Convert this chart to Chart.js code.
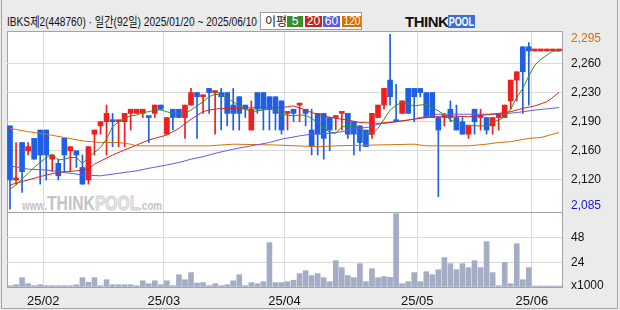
<!DOCTYPE html>
<html>
<head>
<meta charset="utf-8">
<script src="https://cdn.jsdelivr.net/npm/chart.js@4.4.1/dist/chart.umd.min.js"></script>
<style>
  body { margin: 0; background: #ebebeb; }
  #box { position: relative; width: 620px; height: 310px; overflow: hidden; background: #ebebeb;
         font-family: "Liberation Sans", "Noto Sans CJK KR", sans-serif; }
  .abs { position: absolute; white-space: nowrap; }
  #frame { left: 1px; top: -1px; width: 617px; height: 310px; border: 1px solid #a6a6a6; box-sizing: border-box; }
  #plotBg { left: 7px; top: 31px; width: 555px; height: 256px; background: #fff; }
  #title { left: 7px; top: 15px; font-size: 13px; line-height: 13px; color: #111; transform-origin: 0 0; }
  #legend { left: 260px; top: 12px; width: 100px; height: 16px; background: #fff; border: 1px solid #9a9a9a; }
  #legend .lbl { left: 4px; top: 0px; font-size: 12px; line-height: 16px; font-family: "Noto Sans CJK KR", sans-serif; color: #111; }
  #legend .sw { top: 3px; height: 11px; color: #fff; font-size: 12px; line-height: 11px; text-align: center; overflow: hidden; }
  #legend .sw span { display: inline-block; transform-origin: 50% 50%; }
  #logo { left: 405px; top: 15px; height: 13px; }
  #logo .tk { left: 0; top: -2px; font-size: 15px; font-weight: bold; color: #111; letter-spacing: -0.5px; }
  #logo .pl { left: 43px; top: 0; width: 27px; height: 13px; background: #3b6fd6; color: #fff; font-size: 13px; line-height: 13px;
              font-weight: bold; overflow: hidden; }
  #logo .pl span { display: inline-block; transform-origin: 0 0; padding-left: 1px; }
  #wm { left: 22px; top: 192px; color: #c3c3c3; transform-origin: 0 0; line-height: 22px; }
  #wm .s { font-size: 13px; font-weight: bold; }
  #wm .b { font-size: 21px; font-weight: bold; }
  #wm .o { font-size: 21px; font-weight: bold; color: #e6e6e6; -webkit-text-stroke: 1px #d0d0d0; }
  #c { position: absolute; left: 0; top: 0; }
</style>
</head>
<body>
<div id="box">
  <div class="abs" id="frame"></div>
  <div class="abs" id="plotBg"></div>
  <div class="abs" id="wm"><span class="s">www.</span><span class="b">THINK</span><span class="o">POOL</span><span class="s">.com</span></div>
  <div class="abs" id="title">IBKS제2(448760) · 일간(92일) 2025/01/20 ~ 2025/06/10</div>
  <div class="abs" id="legend">
    <div class="abs lbl">이평</div>
    <div class="abs sw" style="left:26px;width:16px;background:#3d8c2a"><span>5</span></div>
    <div class="abs sw" style="left:44px;width:17px;background:#c8221c"><span>20</span></div>
    <div class="abs sw" style="left:62px;width:17px;background:#5b5be0"><span>60</span></div>
    <div class="abs sw" style="left:81px;width:19px;background:#dc6e06"><span style="transform:scaleX(0.85)">120</span></div>
  </div>
  <div class="abs" id="logo"><div class="abs tk">THINK</div><div class="abs pl"><span>POOL</span></div></div>
  <canvas id="c" width="620" height="310"></canvas>
</div>
<script>
// 거래일 (92일)
const dates = [
  '01/20','01/21','01/22','01/23','01/24','01/31',
  '02/03','02/04','02/05','02/06','02/07','02/10','02/11','02/12','02/13','02/14',
  '02/17','02/18','02/19','02/20','02/21','02/24','02/25','02/26','02/27','02/28',
  '03/04','03/05','03/06','03/07','03/10','03/11','03/12','03/13','03/14',
  '03/17','03/18','03/19','03/20','03/21','03/24','03/25','03/26','03/27','03/28','03/31',
  '04/01','04/02','04/03','04/04','04/07','04/08','04/09','04/10','04/11',
  '04/14','04/15','04/16','04/17','04/18','04/21','04/22','04/23','04/24','04/25',
  '04/28','04/29','04/30',
  '05/02','05/07','05/08','05/09','05/12','05/13','05/14','05/15','05/16',
  '05/19','05/20','05/21','05/22','05/23','05/26','05/27','05/28','05/29','05/30',
  '06/02','06/04','06/05','06/09','06/10'
];
const tickDates = ['02/03', '03/04', '04/01', '05/02', '06/02'];
const tickText = ['25/02', '25/03', '25/04', '25/05', '25/06'];

const opens = [
  2185,2120,2165,2155,2170,2180,2180,2145,2140,2170,
  2155,2155,2135,2120,2175,2185,2190,2190,2190,2190,
  2200,2200,2200,2195,2200,2210,2175,2205,2205,2195,
  2210,2225,2220,2230,2225,2225,2225,2210,2220,2210,
  2180,2225,2225,2220,2220,2215,2200,2205,2210,2205,
  2180,2200,2200,2195,2195,2200,2200,2190,2185,2180,
  2175,2195,2210,2240,2190,2200,2230,2230,2230,2225,
  2225,2195,2195,2205,2195,2190,2175,2205,2195,2195,
  2185,2195,2195,2215,2240,2280,2280,2275,2275,2275,
  2275,2275
];
const highs = [
  2185,2165,2165,2165,2170,2180,2180,2150,2145,2170,
  2160,2155,2150,2160,2180,2190,2210,2200,2190,2200,
  2205,2205,2205,2195,2210,2210,2195,2205,2205,2210,
  2230,2225,2220,2230,2225,2230,2225,2230,2220,2210,
  2215,2225,2225,2220,2220,2215,2200,2205,2210,2205,
  2205,2200,2200,2195,2195,2200,2200,2190,2185,2180,
  2200,2210,2230,2295,2235,2215,2230,2230,2230,2225,
  2225,2195,2200,2215,2210,2195,2185,2205,2205,2195,
  2195,2200,2210,2240,2250,2280,2285,2275,2275,2275,
  2275,2275
];
const lows = [
  2085,2115,2105,2150,2145,2115,2120,2130,2120,2130,
  2130,2135,2115,2115,2150,2175,2150,2160,2160,2160,
  2180,2200,2195,2165,2195,2205,2175,2180,2195,2170,
  2210,2170,2200,2200,2175,2180,2185,2180,2180,2195,
  2180,2200,2180,2180,2180,2175,2180,2190,2190,2185,
  2150,2150,2145,2155,2180,2180,2170,2150,2155,2160,
  2170,2195,2205,2210,2190,2200,2200,2190,2220,2195,
  2195,2100,2185,2190,2180,2175,2170,2175,2180,2175,
  2175,2180,2195,2205,2215,2200,2210,2275,2275,2275,
  2275,2275
];
const closes = [
  2120,2120,2130,2160,2145,2150,2150,2150,2125,2150,
  2160,2150,2115,2160,2180,2190,2200,2190,2190,2200,
  2205,2205,2205,2195,2210,2205,2195,2195,2195,2210,
  2225,2220,2220,2225,2225,2220,2200,2200,2200,2205,
  2205,2205,2205,2205,2200,2180,2200,2200,2210,2200,
  2160,2175,2170,2180,2195,2200,2175,2175,2165,2160,
  2200,2210,2230,2220,2190,2215,2200,2220,2225,2195,
  2195,2180,2195,2195,2180,2175,2185,2190,2195,2180,
  2195,2200,2210,2240,2250,2250,2275,2275,2275,2275,
  2275,2275
];
// 거래량 (x1000)
const volumes = [
  1.3,2.2,9,3.2,1.3,2.2,1.3,1.3,1.3,1.3,
  1.3,2.2,9,4.5,9,1.3,7,2.2,2.2,2.2,
  2.2,1.3,6,3.2,6,2.2,6,1.3,11.8,7,
  13.8,3.8,4.2,1.3,3.2,1.3,2.2,6,11.8,1.3,
  4.2,3.2,5.1,42.6,4.2,4.2,5.1,6.5,12.8,15.7,
  11,12.8,9,5.1,25.3,18.6,11,9,22.4,5.1,
  17.6,9,10,9.3,70.4,3.2,5.1,13.8,5.1,14.7,
  11.8,16.6,28.2,22.4,16.6,22.4,18.6,25.3,18.6,43.5,
  13.8,1.3,23.7,3.2,41.6,7,18.6,0,0,0,
  0,0
];

// 이동평균선
const ma5 = [
  2109,2114,2121,2128,2135,2141,2147,2151,2144,2145,
  2147,2147,2140,2147,2153,2159,2169,2184,2190,2194,
  2197,2198,2201,2202,2204,2204,2202,2200,2200,2200,
  2204,2209,2214,2220,2223,2222,2218,2214,2209,2205,
  2202,2203,2204,2205,2204,2199,2198,2197,2198,2198,
  2194,2189,2183,2177,2176,2184,2184,2185,2182,2175,
  2175,2182,2193,2204,2210,2213,2211,2209,2210,2211,
  2207,2203,2198,2192,2189,2185,2186,2185,2185,2185,
  2189,2192,2196,2205,2219,2230,2245,2258,2265,2270,
  2275,2275
];
// [일 index, 값]
const ma20 = [[0,2114],[3,2120],[6,2126],[8,2129],[11,2131],[13,2133],[14,2139],[17,2150],[21,2162],
  [23,2168],[26,2174],[28,2182],[30,2193],[32,2202],[33,2204],[35,2206],[38,2206],[41,2207],[45,2207],
  [47,2209],[49,2204],[50,2201],[52,2197],[54,2194],[56,2192],[58,2189],[61,2188],[64,2190],[68,2194],
  [72,2197],[76,2196],[81,2200],[83,2202],[85,2206],[87,2209],[89,2214],[91,2225]];
const ma60 = [[0,2137],[3,2133],[6,2132],[9,2129],[12,2126],[15,2125],[18,2128],[21,2131],[23,2134],
  [26,2138],[28,2141],[30,2145],[32,2148],[34,2152],[37,2157],[40,2161],[43,2165],[45,2169],[48,2173],
  [50,2175],[53,2176],[55,2178],[57,2181],[60,2184],[61,2187],[64,2190],[66,2192],[68,2195],[71,2199],
  [76,2199],[81,2199],[84,2201],[87,2204],[91,2207]];
const ma120 = [[0,2182],[3,2178],[6,2175],[9,2171],[12,2167],[15,2165],[18,2165],[20,2163],[21,2161],
  [30,2161],[33,2161],[37,2163],[44,2162],[51,2160],[54,2161],[67,2163],[69,2161],[76,2161],[79,2163],
  [81,2165],[83,2166],[86,2170],[88,2171],[91,2177]];

const priceGrid = [2120, 2155, 2190, 2225, 2260];
const priceLabelValues = [2295, 2260, 2225, 2190, 2155, 2120, 2085];
const priceLabelText = ['2,295', '2,260', '2,230', '2,190', '2,160', '2,120', '2,085'];
const volTicks = [0, 24, 48, 72];
const volTickText = ['x1000', '24', '48', ''];

const UP = '#f01e1e', DOWN = '#1f5fe6';
const DARK = '#a3a3a3', LIGHT = '#dadada';
const monthIdx = tickDates.map(d => dates.indexOf(d));

function candleColor(i) {
  if (closes[i] > opens[i]) return UP;
  if (closes[i] < opens[i]) return DOWN;
  return (i > 0 && closes[i] < closes[i - 1]) ? DOWN : UP;
}
const colors = dates.map((d, i) => candleColor(i));
const pts = arr => arr.map(([i, v]) => ({ x: dates[i], y: v }));

function maLine(label, data, color) {
  return { type: 'line', label, data, borderColor: color, borderWidth: 1, pointRadius: 0,
           tension: 0, yAxisID: 'y', order: 0 };
}

// 오른쪽 눈금 글자
const sideLabels = {
  id: 'sideLabels',
  afterDraw(chart) {
    const c = chart.ctx, yp = chart.scales.y, yv = chart.scales.yv;
    c.save();
    c.font = '12px "Liberation Sans", sans-serif';
    c.textAlign = 'left';
    c.textBaseline = 'middle';
    priceLabelValues.forEach((v, k) => {
      let py = yp.getPixelForValue(v);
      if (k === 0) py += 4;
      if (k === priceLabelValues.length - 1) py -= 3;
      c.fillStyle = k === 0 ? '#d2700a' : (k === priceLabelValues.length - 1 ? '#1616d0' : '#111');
      c.fillText(priceLabelText[k], 571, py);
    });
    volTicks.forEach((v, k) => {
      c.fillStyle = '#111';
      c.fillText(volTickText[k], 571, yv.getPixelForValue(v) + (v === 0 ? -1 : 1));
    });
    c.restore();
  }
};

new Chart(document.getElementById('c'), {
  type: 'bar',
  data: {
    labels: dates,
    datasets: [
      maLine('5', ma5.map((v, i) => ({ x: dates[i], y: v })), '#3c8c1e'),
      maLine('20', pts(ma20), '#cc2a2a'),
      maLine('60', pts(ma60), '#6a58e0'),
      maLine('120', pts(ma120), '#d4700a'),
      { label: 'wick', data: lows.map((l, i) => [l, highs[i]]), backgroundColor: colors,
        barThickness: 1, minBarLength: 1, grouped: false, yAxisID: 'y', order: 2 },
      { label: 'body', data: opens.map((o, i) => [o, closes[i]]), backgroundColor: colors,
        barThickness: 5, minBarLength: 2, grouped: false, yAxisID: 'y', order: 1 },
      { label: 'volume', data: volumes, backgroundColor: '#a4adc5',
        barThickness: 5, minBarLength: 1, grouped: false, yAxisID: 'yv', order: 3 }
    ]
  },
  options: {
    responsive: false,
    animation: false,
    devicePixelRatio: 1,
    layout: { padding: { left: 7, top: 31, right: 0, bottom: 0 } },
    plugins: { legend: { display: false }, tooltip: { enabled: false } },
    scales: {
      x: {
        type: 'category',
        offset: true,
        grid: {
          offset: true, drawTicks: false,
          color: ctx => {
            if (ctx.type !== 'tick') return 'rgba(0,0,0,0)';
            if (ctx.index === 0) return DARK;
            return monthIdx.includes(ctx.index) ? LIGHT : 'rgba(0,0,0,0)';
          }
        },
        border: { display: true, color: DARK },
        ticks: {
          autoSkip: false, maxRotation: 0, minRotation: 0, padding: 7, labelOffset: -3,
          color: '#111', font: { size: 13, family: '"Liberation Sans", sans-serif' },
          callback: (v, i) => { const k = tickDates.indexOf(dates[i]); return k < 0 ? '' : tickText[k]; }
        },
        afterFit: s => { s.height = 23; }
      },
      y: {
        type: 'linear', position: 'right', stack: 'panel', stackWeight: 181,
        min: 2081.5, max: 2299,
        afterBuildTicks: s => { s.ticks = priceGrid.concat([2299]).map(v => ({ value: v })); },
        ticks: { display: false },
        grid: { drawTicks: false, color: ctx => (ctx.tick && ctx.tick.value === 2299) ? DARK : LIGHT },
        border: { display: true, color: DARK },
        afterFit: s => { s.width = 58; }
      },
      yv: {
        type: 'linear', position: 'right', stack: 'panel', stackWeight: 75,
        min: 0, max: 72,
        afterBuildTicks: s => { s.ticks = volTicks.map(v => ({ value: v })); },
        ticks: { display: false },
        grid: {
          drawTicks: false,
          color: ctx => {
            if (!ctx.tick) return LIGHT;
            if (ctx.tick.value === 72) return DARK;
            if (ctx.tick.value === 0) return 'rgba(0,0,0,0)';
            return LIGHT;
          }
        },
        border: { display: true, color: DARK },
        afterFit: s => { s.width = 58; }
      }
    }
  },
  plugins: [sideLabels]
});

// 제목과 워터마크 폭 맞추기
function fitWidth(id, w) {
  const el = document.getElementById(id);
  const cur = el.getBoundingClientRect().width;
  el.style.transform = 'scaleX(' + (w / cur) + ')';
}
fitWidth('title', 250);
fitWidth('wm', 140);
const pool = document.querySelector('#logo .pl span');
pool.style.transform = 'scaleX(' + (26 / pool.getBoundingClientRect().width) + ')';
</script>
</body>
</html>
